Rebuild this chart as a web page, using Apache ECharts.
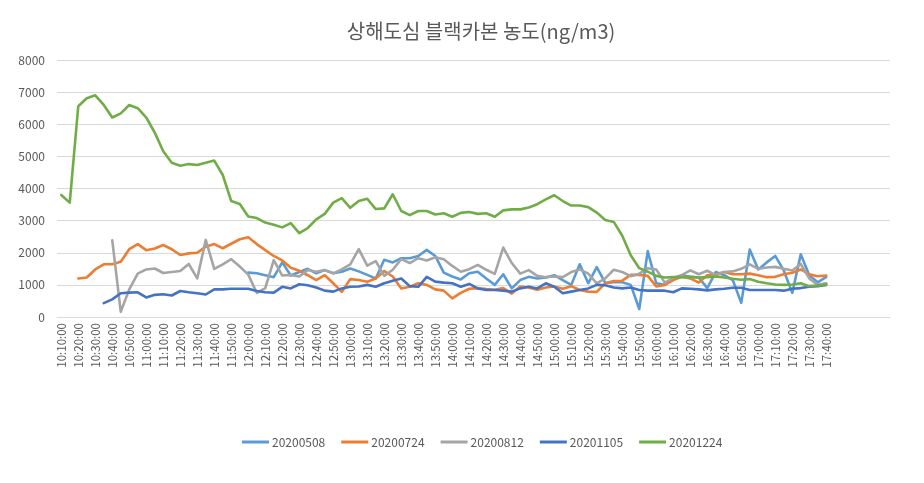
<!DOCTYPE html>
<html>
<head>
<meta charset="utf-8">
<script src="https://cdn.jsdelivr.net/npm/echarts@6/dist/echarts.min.js"></script>
<style>
html,body{margin:0;padding:0;background:#fff;}
#chart{width:924px;height:483px;}
</style>
</head>
<body>
<div id="chart"></div>
<script>
const titleText = '상해도심 블랙카본 농도(ng/m3)';
const times = [
'10:10:00','10:15:00','10:20:00','10:25:00','10:30:00','10:35:00','10:40:00','10:45:00','10:50:00','10:55:00',
'11:00:00','11:05:00','11:10:00','11:15:00','11:20:00','11:25:00','11:30:00','11:35:00','11:40:00','11:45:00',
'11:50:00','11:55:00','12:00:00','12:05:00','12:10:00','12:15:00','12:20:00','12:25:00','12:30:00','12:35:00',
'12:40:00','12:45:00','12:50:00','12:55:00','13:00:00','13:05:00','13:10:00','13:15:00','13:20:00','13:25:00',
'13:30:00','13:35:00','13:40:00','13:45:00','13:50:00','13:55:00','14:00:00','14:05:00','14:10:00','14:15:00',
'14:20:00','14:25:00','14:30:00','14:35:00','14:40:00','14:45:00','14:50:00','14:55:00','15:00:00','15:05:00',
'15:10:00','15:15:00','15:20:00','15:25:00','15:30:00','15:35:00','15:40:00','15:45:00','15:50:00','15:55:00',
'16:00:00','16:05:00','16:10:00','16:15:00','16:20:00','16:25:00','16:30:00','16:35:00','16:40:00','16:45:00',
'16:50:00','16:55:00','17:00:00','17:05:00','17:10:00','17:15:00','17:20:00','17:25:00','17:30:00','17:35:00',
'17:40:00'];
const seriesNames = ['20200508','20200724','20200812','20201105','20201224'];
const s20200508 = [
null,null,null,null,null,null,null,null,null,null,
null,null,null,null,null,null,null,null,null,null,
null,null,1380,1360,1300,1240,1700,1290,1400,1500,
1360,1460,1360,1410,1510,1420,1310,1200,1780,1700,
1830,1830,1900,2090,1900,1380,1260,1170,1360,1410,
1200,1000,1330,890,1150,1250,1200,1230,1300,1150,
1000,1640,1050,1550,1060,1080,1080,1000,250,2050,
1050,1000,1200,1300,1250,1230,900,1400,1300,1150,
440,2100,1480,1700,1900,1450,750,1950,1300,1080,
1250];
const s20200724 = [
null,null,1200,1230,1480,1640,1640,1720,2110,2270,
2080,2130,2240,2110,1930,1980,2000,2190,2270,2140,
2280,2420,2480,2270,2080,1900,1760,1530,1440,1300,
1150,1300,1050,780,1180,1150,1100,1200,1430,1260,
890,940,1050,1000,860,820,580,750,880,900,
870,850,900,730,950,920,850,920,950,880,
960,840,790,780,1050,1120,1130,1310,1310,1280,
950,1000,1150,1250,1200,1070,1300,1330,1400,1330,
1330,1350,1300,1240,1250,1330,1380,1480,1330,1270,
1290];
const s20200812 = [
null,null,null,null,null,null,2390,160,860,1350,
1480,1510,1370,1400,1430,1650,1200,2400,1500,1640,
1800,1570,1320,750,900,1770,1290,1310,1260,1460,
1410,1460,1360,1480,1640,2110,1600,1740,1280,1470,
1800,1680,1830,1760,1860,1800,1590,1410,1490,1620,
1470,1340,2160,1680,1350,1460,1280,1240,1260,1240,
1400,1480,1350,1050,1200,1470,1400,1270,1350,1520,
1480,1070,1220,1300,1450,1330,1440,1300,1400,1420,
1500,1640,1500,1540,1560,1500,1450,1650,1200,1000,
1050];
const s20201105 = [
null,null,null,null,null,430,550,740,760,770,
610,690,710,670,810,770,740,700,860,860,
880,880,880,810,770,760,940,890,1020,990,
920,820,790,890,940,950,1000,940,1050,1130,
1200,960,940,1250,1100,1070,1050,940,1030,890,
840,840,820,790,890,940,890,1050,940,740,
790,840,890,1000,990,920,890,920,840,820,
820,820,770,890,880,860,830,860,880,910,
910,840,840,840,840,820,880,900,940,960,
1000];
const s20201224 = [
3800,3560,6560,6810,6900,6600,6210,6340,6600,6500,
6210,5740,5160,4800,4710,4760,4730,4800,4870,4420,
3610,3520,3130,3080,2940,2870,2790,2920,2610,2770,
3040,3210,3560,3700,3400,3610,3680,3360,3380,3820,
3300,3170,3300,3300,3190,3230,3120,3240,3270,3210,
3230,3120,3320,3350,3350,3410,3510,3660,3790,3610,
3470,3470,3420,3250,3020,2960,2530,1920,1520,1410,
1280,1230,1240,1240,1250,1230,1240,1260,1230,1190,
1160,1180,1100,1050,1010,1000,1010,1050,960,980,
1000];
const yTicks = [0,1000,2000,3000,4000,5000,6000,7000,8000];

const seriesData = [s20200508,s20200724,s20200812,s20201105,s20201224];
const colors = ['#5B9BD5','#ED7D31','#A5A5A5','#4472C4','#70AD47'];

// axis categories: Excel's category axis leaves extra blank slots on the right
const axisCats = times.concat(['','','','','','','']);

const chart = echarts.init(document.getElementById('chart'), null, {renderer:'canvas'});
const FONT = '"Noto Sans CJK KR","Noto Sans",sans-serif';
chart.setOption({
  animation:false,
  color:colors,
  title:{
    text:titleText,
    left:476, top:16, textAlign:'center',
    textStyle:{fontFamily:FONT,fontSize:20,fontWeight:'normal',color:'#595959'}
  },
  grid:{left:57,right:34,top:60,bottom:166,containLabel:false},
  legend:{
    bottom:30, left:237,
    icon:'rect', itemWidth:27, itemHeight:3, itemGap:16,
    textStyle:{fontFamily:FONT,fontSize:12,color:'#595959',padding:[0,0,0,-2]},
    data:seriesNames
  },
  xAxis:{
    type:'category', data:axisCats, boundaryGap:true,
    axisLine:{lineStyle:{color:'#D9D9D9'}},
    axisTick:{show:false},
    axisLabel:{interval:1, rotate:90, fontFamily:FONT, fontSize:11.5, color:'#595959', margin:6}
  },
  yAxis:{
    type:'value', min:yTicks[0], max:yTicks[yTicks.length-1], interval:1000,
    axisLine:{show:false}, axisTick:{show:false},
    splitLine:{lineStyle:{color:'#D9D9D9'}},
    axisLabel:{fontFamily:FONT, fontSize:12, color:'#595959', margin:12,
      formatter:function(v){return String(v);}}
  },
  series: seriesNames.map((n,k)=>({
    name:n, type:'line', data:seriesData[k],
    symbol:'none', connectNulls:false,
    lineStyle:{width:2.6, color:colors[k], join:'round', cap:'round'},
    itemStyle:{color:colors[k]}
  }))
});
</script>
</body>
</html>
